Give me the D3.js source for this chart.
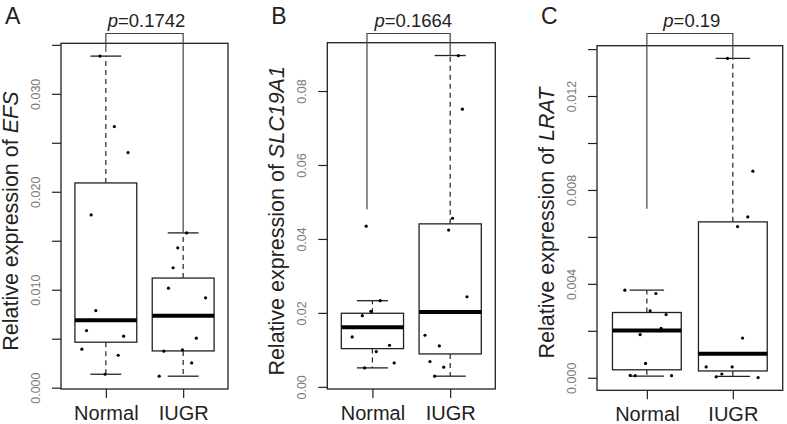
<!DOCTYPE html>
<html>
<head>
<meta charset="utf-8">
<script src="https://cdn.jsdelivr.net/npm/d3@7"></script>
<style>
  body { margin: 0; background: #fff; }
  svg { display: block; font-family: "Liberation Sans", Arial, sans-serif; }
</style>
</head>
<body>
<div id="main"></div>
<script>
// groups and panel texts
const groups = ["Normal", "IUGR"];
const genes = ["EFS", "SLC19A1", "LRAT"];
const panelLetters = ["A", "B", "C"];
const pLabels = ["0.1742", "0.1664", "0.19"];

// EFS (panel A)
const efsNormal = [0.03385, 0.02666, 0.0240, 0.01763, 0.00787, 0.00583, 0.00526, 0.00393, 0.00331, 0.00137];
const efsNormalJitter = [-0.075, 0.11, 0.287, -0.19, -0.13, -0.25, 0.23, -0.31, 0.16, -0.01];
const efsIugr = [0.0158, 0.01428, 0.01224, 0.01016, 0.00917, 0.00505, 0.00372, 0.00385, 0.00253, 0.00117];
const efsIugrJitter = [0.045, -0.07, -0.13, -0.19, 0.29, 0.17, -0.25, -0.01, 0.11, -0.31];
// box stats: [lower whisker, q1, median, q3, upper whisker]
const efsNormalBox = [0.00137, 0.00464, 0.00689, 0.0209, 0.03385];
const efsIugrBox = [0.00117, 0.00375, 0.00733, 0.01119, 0.0158];
const efsTicks = [0, 0.005, 0.010, 0.015, 0.020, 0.025, 0.030, 0.035];
const efsTickLabels = ["0.000", "", "0.010", "", "0.020", "", "0.030", ""];

// SLC19A1 (panel B)
const slcNormal = [0.04345, 0.0233, 0.02043, 0.01925, 0.0135, 0.01125, 0.00953, 0.00648, 0.00513];
const slcNormalJitter = [-0.08, 0.10, -0.02, -0.13, -0.26, 0.22, 0.05, 0.28, -0.1];
const slcIugr = [0.0896, 0.0751, 0.0456, 0.0424, 0.02437, 0.01395, 0.01107, 0.00683, 0.00532, 0.00289];
const slcIugrJitter = [0.105, 0.157, 0.03, -0.02, 0.216, -0.324, -0.139, -0.26, -0.083, -0.2];
const slcNormalBox = [0.00513, 0.01034, 0.01611, 0.0199, 0.0233];
const slcIugrBox = [0.00289, 0.0089, 0.02024, 0.04408, 0.0896];
const slcTicks = [0, 0.02, 0.04, 0.06, 0.08];
const slcTickLabels = ["0.00", "0.02", "0.04", "0.06", "0.08"];

// LRAT (panel C)
const lratNormal = [0.00373, 0.00359, 0.00285, 0.00269, 0.0021, 0.00184, 0.00061, 0.0001, 0.00009, 0.00009];
const lratNormalJitter = [-0.256, 0.105, 0.038, 0.224, 0.166, -0.078, -0.015, -0.194, -0.136, 0.287];
const lratIugr = [0.0136, 0.0088, 0.00685, 0.00644, 0.00169, 0.00046, 0.00046, 0.00016, 0.00004, 0.00001];
const lratIugrJitter = [-0.062, 0.233, 0.174, 0.055, 0.113, -0.31, -0.008, -0.128, -0.194, 0.294];
const lratNormalBox = [0.00007, 0.00034, 0.00201, 0.00278, 0.00373];
const lratIugrBox = [0.00006, 0.00029, 0.00102, 0.00664, 0.0136];
const lratTicks = [0, 0.002, 0.004, 0.006, 0.008, 0.010, 0.012, 0.014];
const lratTickLabels = ["0.000", "", "0.004", "", "0.008", "", "0.012", ""];

// where the p-value bracket legs stop (value) and sit (group position)
const bracketEnds = [[0.0343, 0.0158], [0.048, 0.0896], [0.0072, 0.0136]];
const bracketPos = [[1, 2], [0.93, 2], [1, 2]];

// plot boxes of the three panels, in pixels
const panelBoxes = [
    { left: 61, right: 228, top: 43.3, bottom: 389 },
    { left: 327.3, right: 495.3, top: 42.7, bottom: 389 },
    { left: 597, right: 782.7, top: 45.7, bottom: 390.3 }
];

const svg = d3.select("#main")
    .append("svg")
    .attr("width", 787)
    .attr("height", 424);

makeBoxPanel(0, [efsNormal, efsIugr], [efsNormalJitter, efsIugrJitter], [efsNormalBox, efsIugrBox], efsTicks, efsTickLabels);
makeBoxPanel(1, [slcNormal, slcIugr], [slcNormalJitter, slcIugrJitter], [slcNormalBox, slcIugrBox], slcTicks, slcTickLabels);
makeBoxPanel(2, [lratNormal, lratIugr], [lratNormalJitter, lratIugrJitter], [lratNormalBox, lratIugrBox], lratTicks, lratTickLabels);

function makeBoxPanel(i, values, jitter, boxes, ticks, tickLabels) {
    const b = panelBoxes[i];
    const g = svg.append("g");

    // R style: data range padded by 4% each side
    const all = values[0].concat(values[1]);
    const ext = d3.extent(all);
    const pad = (ext[1] - ext[0]) * 0.04;
    const y = d3.scaleLinear()
        .domain([ext[0] - pad, ext[1] + pad])
        .range([b.bottom, b.top]);
    const x = d3.scaleLinear()
        .domain([0.5 - 0.08, 2.5 + 0.08])
        .range([b.left, b.right]);

    // y axis
    const yAxis = g.append("g")
        .attr("transform", `translate(${b.left},0)`)
        .call(d3.axisLeft(y).tickValues(ticks).tickSize(9).tickFormat((d, k) => tickLabels[k]));
    yAxis.select(".domain").remove();
    yAxis.selectAll("line").attr("stroke", "#222").attr("stroke-width", 1.2);
    yAxis.selectAll("text")
        .attr("transform", "rotate(-90)")
        .attr("x", 0)
        .attr("y", -21)
        .attr("dy", 0)
        .attr("text-anchor", "middle")
        .attr("fill", "#7a7a7a")
        .style("font-size", "12.5px");

    // x axis
    const xAxis = g.append("g")
        .attr("transform", `translate(0,${b.bottom})`)
        .call(d3.axisBottom(x).tickValues([1, 2]).tickSize(9).tickFormat((d, k) => groups[k]));
    xAxis.select(".domain").remove();
    xAxis.selectAll("line").attr("stroke", "#222").attr("stroke-width", 1.2);
    xAxis.selectAll("text")
        .attr("y", 31)
        .attr("dy", 0)
        .attr("fill", "#222")
        .style("font-size", "20px");

    // boxes and whiskers
    const bw = 0.4;
    boxes.forEach(function (s, k) {
        const cx = k + 1;
        g.append("line")
            .attr("x1", x(cx)).attr("x2", x(cx))
            .attr("y1", y(s[3])).attr("y2", y(s[4]))
            .attr("stroke", "#222").attr("stroke-width", 1.2).attr("stroke-dasharray", "5,4");
        g.append("line")
            .attr("x1", x(cx)).attr("x2", x(cx))
            .attr("y1", y(s[1])).attr("y2", y(s[0]))
            .attr("stroke", "#222").attr("stroke-width", 1.2).attr("stroke-dasharray", "5,4");
        [s[0], s[4]].forEach(function (v) {
            g.append("line")
                .attr("x1", x(cx - bw / 2)).attr("x2", x(cx + bw / 2))
                .attr("y1", y(v)).attr("y2", y(v))
                .attr("stroke", "#222").attr("stroke-width", 1.3);
        });
        g.append("rect")
            .attr("x", x(cx - bw)).attr("width", x(cx + bw) - x(cx - bw))
            .attr("y", y(s[3])).attr("height", y(s[1]) - y(s[3]))
            .attr("fill", "none").attr("stroke", "#222").attr("stroke-width", 1.3);
        g.append("line")
            .attr("x1", x(cx - bw)).attr("x2", x(cx + bw))
            .attr("y1", y(s[2])).attr("y2", y(s[2]))
            .attr("stroke", "#000").attr("stroke-width", 4);
    });

    // jittered points
    values.forEach(function (vals, k) {
        g.append("g")
            .selectAll("circle")
            .data(vals)
            .join("circle")
            .attr("cx", (d, j) => x(k + 1 + jitter[k][j]))
            .attr("cy", d => y(d))
            .attr("r", 1.6)
            .attr("fill", "#000");
    });

    // frame
    g.append("rect")
        .attr("x", b.left).attr("y", b.top)
        .attr("width", b.right - b.left).attr("height", b.bottom - b.top)
        .attr("fill", "none").attr("stroke", "#222").attr("stroke-width", 1.3);

    // p-value bracket
    const by = 33.5;
    const bx1 = x(bracketPos[i][0]), bx2 = x(bracketPos[i][1]);
    g.append("path")
        .attr("d", `M${bx1},${y(bracketEnds[i][0])}V${by}H${bx2}V${y(bracketEnds[i][1])}`)
        .attr("fill", "none").attr("stroke", "#444").attr("stroke-width", 1.2);
    const pt = g.append("text")
        .attr("x", (x(1) + x(2)) / 2 + 2)
        .attr("y", 26.5)
        .attr("text-anchor", "middle")
        .attr("fill", "#222")
        .style("font-size", "18.5px");
    pt.append("tspan").style("font-style", "italic").text("p");
    pt.append("tspan").text("=" + pLabels[i]);

    // y title
    const ty = g.append("text")
        .attr("transform", `translate(${b.left - 43},${(b.top + b.bottom) / 2 + 5}) rotate(-90)`)
        .attr("text-anchor", "middle")
        .attr("fill", "#222")
        .style("font-size", "21.5px");
    ty.append("tspan").text("Relative expression of ");
    ty.append("tspan").style("font-style", "italic").text(genes[i]);

    // panel letter
    g.append("text")
        .attr("x", b.left - 56)
        .attr("y", 24)
        .attr("fill", "#222")
        .style("font-size", "23px")
        .text(panelLetters[i]);
}
</script>
</body>
</html>
